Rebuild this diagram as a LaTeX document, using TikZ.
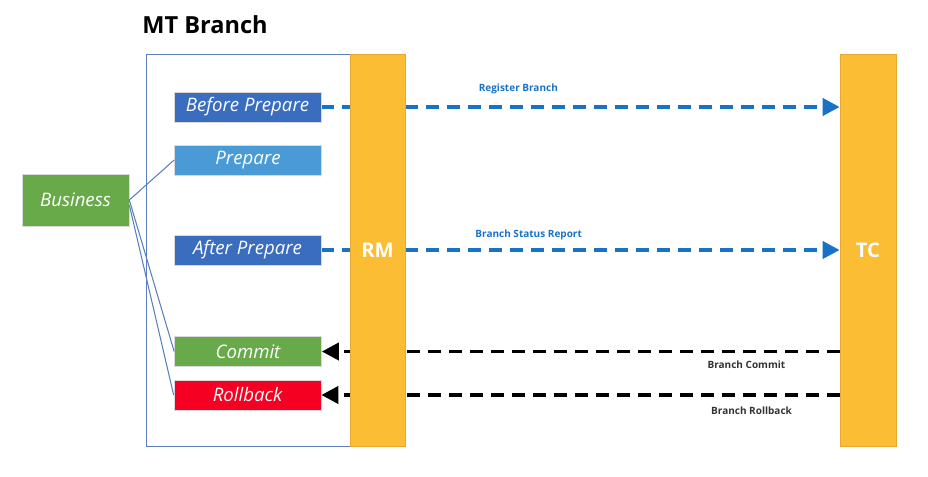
\documentclass[tikz,border=0pt]{standalone}
\usepackage{fontspec}
\setmainfont{Open Sans}
\usepackage{xcolor}
\usepackage{tikz}
\usetikzlibrary{arrows.meta, positioning, backgrounds}
\definecolor{barcolor}{HTML}{FBBD33}
\definecolor{baredge}{HTML}{E6A830}
\definecolor{darkblue}{HTML}{3A6DBE}
\definecolor{lightblue}{HTML}{4A9BD5}
\definecolor{leafgreen}{HTML}{68AA4A}
\definecolor{alertred}{HTML}{F50022}
\definecolor{msgblue}{HTML}{1A72C6}
\definecolor{framecolor}{HTML}{5A7FC0}

\begin{document}
\begin{tikzpicture}[
        x=0.02cm, y=-0.02cm,
        every node/.style={font=\small},
        box/.style={rectangle, minimum width=2.94cm, minimum height=0.6cm,
                    inner sep=0pt, text=white, draw=white!70!gray,
                    font=\fontsize{10.6}{12}\selectfont\itshape},
        bar/.style={rectangle, minimum width=1.1cm, minimum height=7.84cm,
                    fill=barcolor, draw=baredge, text=white,
                    font=\fontsize{11.5}{13}\selectfont\bfseries},
        link/.style={framecolor, line width=0.6pt},
        call/.style={-{Triangle[length=3.4mm, width=3.4mm]}, line width=2.2pt,
                     dash pattern=on 0.26cm off 0.16cm},
        tag/.style={font=\fontsize{5.7}{7}\selectfont\bfseries, inner sep=1pt}
    ]
        \useasboundingbox (0,0) rectangle (928,476);

        % title and frame
        \node[font=\fontsize{13.4}{16}\selectfont\bfseries] (title) at (205,25) {MT Branch};
        \node[rectangle, draw=framecolor, minimum width=4.08cm, minimum height=7.84cm,
              inner sep=0pt] (mt) at (248,250) {};

        % resource manager and coordinator
        \node[bar] (rm) at (377.5,250) {RM};
        \node[bar, minimum width=1.12cm] (tc) at (868,250) {TC};

        % phases
        \node[box, fill=darkblue] (before) at (247.5,107) {Before Prepare};
        \node[box, fill=lightblue] (prepare) at (248,160) {Prepare};
        \node[box, fill=darkblue] (after) at (247.5,250) {After Prepare};
        \node[box, fill=leafgreen] (commit) at (248,351.5) {Commit};
        \node[box, fill=alertred] (rollback) at (247.5,395) {Rollback};

        \node[box, fill=leafgreen, minimum width=2.14cm, minimum height=1.04cm]
            (business) at (75.5,200) {Business};

        \draw[link] (business.east) -- (prepare.west);
        \draw[link] (business.east) -- (commit.west);
        \draw[link] ([yshift=-0.1cm]business.east) -- (rollback.west);

        % messages, behind the RM bar
        \begin{pgfonlayer}{background}
        \draw[call, msgblue] (before.east) -- (before.east -| tc.west)
            node[tag, pos=0.38, above=0.18cm, text=msgblue] {Register Branch};
        \draw[call, msgblue] (after.east) -- (after.east -| tc.west)
            node[tag, pos=0.40, above=0.12cm, text=msgblue] {Branch Status Report};
        \draw[call, black] (commit.east -| tc.west) -- (commit.east)
            node[tag, pos=0.18, below=0.12cm, text=black!80] {Branch Commit};
        \draw[call, black] (rollback.east -| tc.west) -- (rollback.east)
            node[tag, pos=0.17, below=0.16cm, text=black!80] {Branch Rollback};
        \end{pgfonlayer}
    \end{tikzpicture}
\end{document}
